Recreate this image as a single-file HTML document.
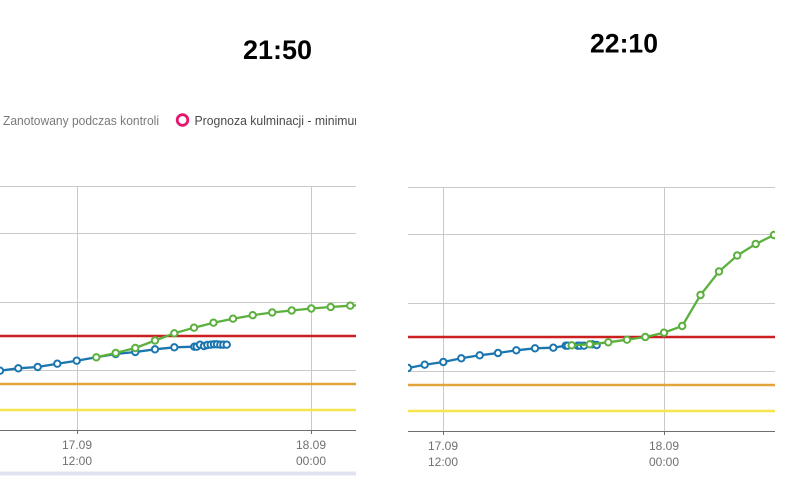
<!DOCTYPE html>
<html><head><meta charset="utf-8"><style>
html,body{margin:0;padding:0;background:#fff;width:801px;height:495px;overflow:hidden}
svg{display:block}
text{font-family:"Liberation Sans",sans-serif}
</style></head><body>
<svg width="801" height="495" viewBox="0 0 801 495" xmlns="http://www.w3.org/2000/svg">
<defs>
<clipPath id="cl"><rect x="0" y="150" width="356" height="290"/></clipPath>
<clipPath id="cr"><rect x="408" y="150" width="367" height="290"/></clipPath>
<clipPath id="cleg"><rect x="0" y="100" width="356" height="40"/></clipPath>
</defs>

<!-- Titles -->
<text x="277.5" y="59" font-size="27" font-weight="bold" text-anchor="middle" fill="#000" textLength="69" lengthAdjust="spacingAndGlyphs">21:50</text>
<text x="624" y="52.5" font-size="27" font-weight="bold" text-anchor="middle" fill="#000" textLength="68" lengthAdjust="spacingAndGlyphs">22:10</text>

<!-- Legend left -->
<g clip-path="url(#cleg)">
<text x="3" y="125" font-size="13" fill="#7a7a7a" textLength="156" lengthAdjust="spacingAndGlyphs">Zanotowany podczas kontroli</text>
<circle cx="182.5" cy="120" r="5.3" fill="none" stroke="#e3176f" stroke-width="2.8"/>
<text x="194.5" y="125" font-size="13" fill="#4a4a4a" textLength="170" lengthAdjust="spacingAndGlyphs">Prognoza kulminacji - minimum</text>
</g>

<!-- LEFT PANEL -->
<g stroke="#c9c9c9" stroke-width="1" fill="none">
<line x1="0" y1="186.5" x2="356" y2="186.5"/>
<line x1="0" y1="233.5" x2="356" y2="233.5"/>
<line x1="0" y1="302.5" x2="356" y2="302.5"/>
<line x1="0" y1="370.5" x2="356" y2="370.5"/>
<line x1="77.5" y1="186" x2="77.5" y2="430"/>
<line x1="311.5" y1="186" x2="311.5" y2="430"/>
</g>
<line x1="0" y1="336" x2="356" y2="336" stroke="#cc1f1f" stroke-width="2.5"/>
<line x1="0" y1="384" x2="356" y2="384" stroke="#e3a43c" stroke-width="2.5"/>
<line x1="0" y1="410" x2="356" y2="410" stroke="#f4e44e" stroke-width="2.5"/>
<line x1="0" y1="430.5" x2="356" y2="430.5" stroke="#6e6e6e" stroke-width="1"/>
<line x1="77.5" y1="430" x2="77.5" y2="434" stroke="#6e6e6e"/>
<line x1="311.5" y1="430" x2="311.5" y2="434" stroke="#6e6e6e"/>
<g font-size="12" fill="#707070" text-anchor="middle">
<text x="77" y="449">17.09</text><text x="77" y="465">12:00</text>
<text x="311" y="449">18.09</text><text x="311" y="465">00:00</text>
</g>
<rect x="0" y="471.5" width="356" height="4" fill="#e0e4f1"/>

<g clip-path="url(#cl)">
<polyline fill="none" stroke="#1b76b0" stroke-width="2.3" points="0,370.7 18.3,368.3 37.7,367 57.3,363.7 76.7,360.7 96.3,357.3 115.7,354 135.3,352 155,349.3 174.3,347.3 194.3,346.7 196.7,346.7 200,344.7 204,346 207.3,345 210.7,344.7 214,344.3 217,344.3 220.3,344.7 223.3,344.7 226.7,344.7"/>
<g fill="#fff" stroke="#1b76b0" stroke-width="2">
<circle cx="0" cy="370.7" r="3.2"/><circle cx="18.3" cy="368.3" r="3.2"/><circle cx="37.7" cy="367" r="3.2"/><circle cx="57.3" cy="363.7" r="3.2"/><circle cx="76.7" cy="360.7" r="3.2"/><circle cx="115.7" cy="354" r="3.2"/><circle cx="135.3" cy="352" r="3.2"/><circle cx="155" cy="349.3" r="3.2"/><circle cx="174.3" cy="347.3" r="3.2"/><circle cx="194.3" cy="346.7" r="3.2"/><circle cx="196.7" cy="346.7" r="3.2"/><circle cx="200" cy="344.7" r="3.2"/><circle cx="204" cy="346" r="3.2"/><circle cx="207.3" cy="345" r="3.2"/><circle cx="210.7" cy="344.7" r="3.2"/><circle cx="214" cy="344.3" r="3.2"/><circle cx="217" cy="344.3" r="3.2"/><circle cx="220.3" cy="344.7" r="3.2"/><circle cx="223.3" cy="344.7" r="3.2"/><circle cx="226.7" cy="344.7" r="3.2"/>
</g>
<polyline fill="none" stroke="#5bb03e" stroke-width="2.3" points="96.3,357.3 115.7,353 135.3,348 155,340.5 174.3,333.3 194,327.7 213.5,322.7 233,318.7 252.7,315.2 272.2,312.5 291.7,310.5 311.3,308.5 330.7,307 350.3,305.7 370,304.5"/>
<g fill="#fff" stroke="#5bb03e" stroke-width="2">
<circle cx="96.3" cy="357.3" r="3.2"/><circle cx="115.7" cy="353" r="3.2"/><circle cx="135.3" cy="348" r="3.2"/><circle cx="155" cy="340.5" r="3.2"/><circle cx="174.3" cy="333.3" r="3.2"/><circle cx="194" cy="327.7" r="3.2"/><circle cx="213.5" cy="322.7" r="3.2"/><circle cx="233" cy="318.7" r="3.2"/><circle cx="252.7" cy="315.2" r="3.2"/><circle cx="272.2" cy="312.5" r="3.2"/><circle cx="291.7" cy="310.5" r="3.2"/><circle cx="311.3" cy="308.5" r="3.2"/><circle cx="330.7" cy="307" r="3.2"/><circle cx="350.3" cy="305.7" r="3.2"/>
</g>
</g>

<!-- RIGHT PANEL -->
<g stroke="#c9c9c9" stroke-width="1" fill="none">
<line x1="408" y1="187.5" x2="775" y2="187.5"/>
<line x1="408" y1="234.5" x2="775" y2="234.5"/>
<line x1="408" y1="303.5" x2="775" y2="303.5"/>
<line x1="408" y1="371.5" x2="775" y2="371.5"/>
<line x1="443.5" y1="187" x2="443.5" y2="431"/>
<line x1="664.5" y1="187" x2="664.5" y2="431"/>
</g>
<line x1="408" y1="337" x2="775" y2="337" stroke="#cc1f1f" stroke-width="2.5"/>
<line x1="408" y1="385" x2="775" y2="385" stroke="#e3a43c" stroke-width="2.5"/>
<line x1="408" y1="411" x2="775" y2="411" stroke="#f4e44e" stroke-width="2.5"/>
<line x1="408" y1="431.5" x2="775" y2="431.5" stroke="#6e6e6e" stroke-width="1"/>
<line x1="443.5" y1="431" x2="443.5" y2="435" stroke="#6e6e6e"/>
<line x1="664.5" y1="431" x2="664.5" y2="435" stroke="#6e6e6e"/>
<g font-size="12" fill="#707070" text-anchor="middle">
<text x="443" y="450">17.09</text><text x="443" y="466">12:00</text>
<text x="664" y="450">18.09</text><text x="664" y="466">00:00</text>
</g>

<g clip-path="url(#cr)">
<polyline fill="none" stroke="#1b76b0" stroke-width="2.3" points="400,370 408,368 424.7,364.7 443.3,362 461.3,358.3 479.7,355.3 498,353 516.3,350.3 535,348.3 553.3,347.7 565.7,345.7 567.7,345.7 571.7,345.3 577.7,345.7 580,345.7 584,345.7 589.7,344.3 592.3,344.3 596.7,345"/>
<g fill="#fff" stroke="#1b76b0" stroke-width="2">
<circle cx="408" cy="368" r="3.2"/><circle cx="424.7" cy="364.7" r="3.2"/><circle cx="443.3" cy="362" r="3.2"/><circle cx="461.3" cy="358.3" r="3.2"/><circle cx="479.7" cy="355.3" r="3.2"/><circle cx="498" cy="353" r="3.2"/><circle cx="516.3" cy="350.3" r="3.2"/><circle cx="535" cy="348.3" r="3.2"/><circle cx="553.3" cy="347.7" r="3.2"/><circle cx="565.7" cy="345.7" r="3.2"/><circle cx="567.7" cy="345.7" r="3.2"/><circle cx="577.7" cy="345.7" r="3.2"/><circle cx="580" cy="345.7" r="3.2"/><circle cx="584" cy="345.7" r="3.2"/><circle cx="592.3" cy="344.3" r="3.2"/><circle cx="596.7" cy="345" r="3.2"/>
</g>
<polyline fill="none" stroke="#5bb03e" stroke-width="2.3" points="571.7,345.3 589.7,344.3 608.3,342.3 627,339.7 645.3,337 664,332.7 682.2,326 700.5,295 719,271.5 737.2,255.5 755.7,244 774,235 790,228"/>
<g fill="#fff" stroke="#5bb03e" stroke-width="2">
<circle cx="571.7" cy="345.3" r="3.2"/><circle cx="589.7" cy="344.3" r="3.2"/><circle cx="608.3" cy="342.3" r="3.2"/><circle cx="627" cy="339.7" r="3.2"/><circle cx="645.3" cy="337" r="3.2"/><circle cx="664" cy="332.7" r="3.2"/><circle cx="682.2" cy="326" r="3.2"/><circle cx="700.5" cy="295" r="3.2"/><circle cx="719" cy="271.5" r="3.2"/><circle cx="737.2" cy="255.5" r="3.2"/><circle cx="755.7" cy="244" r="3.2"/><circle cx="774" cy="235" r="3.2"/>
</g>
</g>
</svg>
</body></html>
